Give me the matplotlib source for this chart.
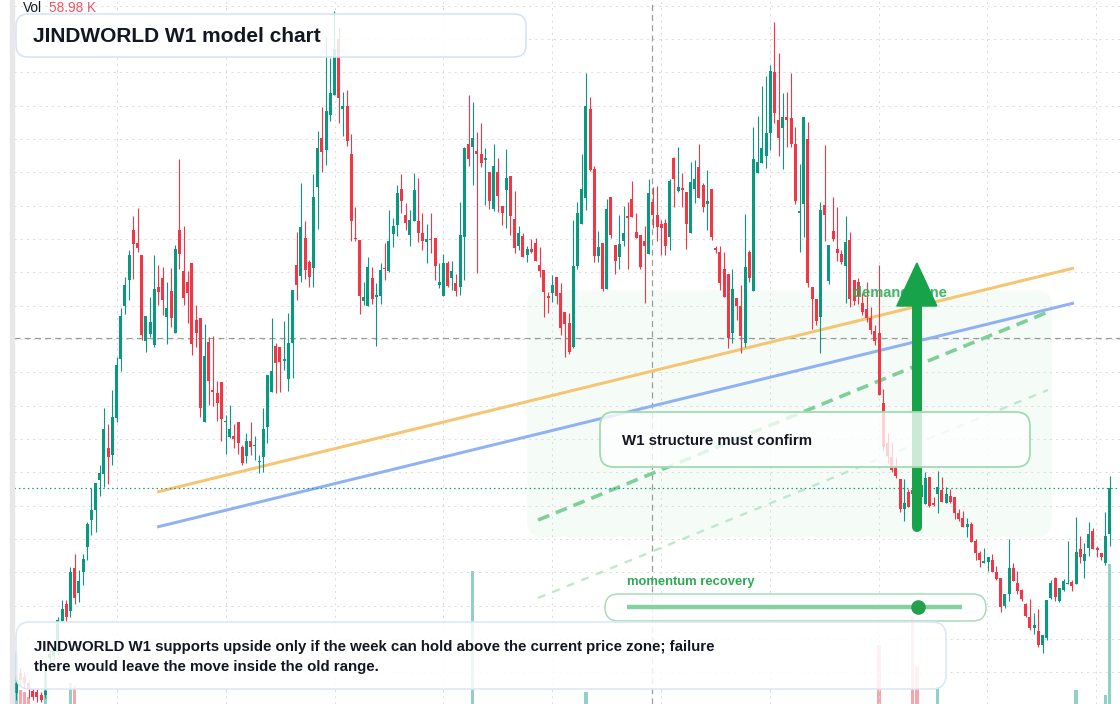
import numpy as np
import matplotlib
matplotlib.use("Agg")
import matplotlib.pyplot as plt
from matplotlib.patches import FancyBboxPatch, Rectangle, Polygon
from matplotlib.transforms import IdentityTransform

W, H = 1120, 704

# weekly candles, price units
open_ = [27, 47, 43, 37, 29, 28, 25, 25, 62, 64,
         68, 99, 116, 109, 152, 127, 148, 173, 200, 210,
         240, 246, 272, 265, 302, 361, 414, 440, 490, 477,
         465, 379, 386, 375, 433, 442, 403, 429, 387, 490,
         449, 438, 457, 400, 402, 298, 378, 330, 327, 338,
         298, 283, 284, 298, 273, 264, 279, 274, 258, 263,
         293, 328, 374, 373, 359, 341, 377, 455, 444, 482,
         458, 452, 533, 582, 570, 605, 625, 681, 611, 614,
         566, 482, 480, 419, 414, 442, 423, 424, 452, 449,
         486, 495, 531, 505, 485, 499, 499, 487, 478, 481,
         482, 435, 424, 457, 442, 437, 433, 483, 576, 573,
         569, 566, 560, 548, 511, 548, 514, 530, 544, 501,
         474, 484, 465, 471, 477, 455, 450, 424, 427, 443,
         427, 408, 397, 373, 454, 496, 522, 611, 551, 464,
         477, 431, 523, 475, 463, 479, 504, 521, 488, 485,
         479, 466, 518, 505, 496, 497, 483, 562, 529, 532,
         528, 487, 531, 553, 535, 516, 531, 472, 468, 451,
         446, 387, 422, 414, 377, 468, 429, 547, 557, 564,
         587, 648, 600, 592, 603, 602, 576, 507, 516, 581,
         433, 421, 403, 515, 439, 489, 471, 466, 454, 480,
         440, 438, 417, 411, 402, 389, 387, 317, 277, 263,
         254, 241, 211, 228, 230, 233, 223, 216, 243, 217,
         226, 230, 217, 224, 223, 207, 202, 193, 196, 179,
         167, 157, 158, 160, 148, 142, 114, 126, 152, 137,
         130, 116, 103, 92, 89, 75, 82, 122, 142, 119,
         130, 136, 138, 136, 171, 159, 172, 189, 172, 167,
         157, 186]
high = [45, 52, 48, 40, 32, 31, 28, 57, 70, 75,
        103, 120, 120, 153, 166, 150, 166, 198, 232, 237,
        255, 312, 296, 330, 363, 412, 443, 470, 504, 512,
        465, 404, 423, 465, 455, 453, 438, 452, 475, 561,
        494, 449, 457, 415, 402, 396, 383, 384, 339, 338,
        305, 315, 296, 298, 275, 287, 298, 284, 265, 312,
        345, 402, 377, 373, 399, 407, 430, 488, 537, 499,
        460, 546, 589, 613, 684, 662, 709, 693, 628, 630,
        586, 513, 480, 438, 463, 453, 437, 457, 477, 510,
        502, 535, 546, 517, 510, 547, 542, 507, 496, 507,
        482, 457, 466, 459, 459, 446, 518, 573, 625, 618,
        588, 597, 572, 548, 576, 562, 514, 571, 544, 529,
        494, 487, 474, 481, 482, 473, 450, 428, 445, 443,
        437, 408, 407, 500, 518, 566, 647, 623, 554, 489,
        477, 521, 523, 475, 505, 514, 518, 539, 507, 485,
        494, 541, 533, 534, 500, 501, 541, 563, 573, 547,
        528, 558, 560, 576, 537, 550, 531, 474, 474, 468,
        446, 451, 422, 435, 506, 470, 593, 604, 634, 644,
        655, 698, 667, 627, 628, 647, 593, 556, 603, 598,
        433, 421, 518, 575, 475, 523, 513, 470, 504, 488,
        440, 442, 427, 438, 413, 395, 455, 331, 287, 278,
        262, 241, 241, 231, 259, 240, 242, 248, 243, 223,
        249, 243, 233, 231, 223, 211, 209, 202, 198, 181,
        169, 172, 163, 166, 154, 142, 126, 181, 157, 149,
        131, 117, 121, 107, 111, 85, 120, 140, 143, 132,
        141, 179, 140, 203, 184, 177, 198, 192, 174, 167,
        208, 244]
low = [20, 34, 32, 22, 20, 18, 18, 22, 58, 60,
       65, 97, 98, 103, 116, 118, 135, 160, 185, 188,
       224, 233, 236, 255, 298, 349, 406, 420, 441, 468,
       380, 368, 383, 373, 415, 405, 376, 393, 387, 451,
       415, 397, 365, 373, 303, 298, 315, 314, 299, 279,
       266, 282, 272, 266, 255, 257, 265, 260, 247, 248,
       277, 328, 327, 328, 350, 329, 342, 420, 438, 441,
       433, 433, 491, 548, 555, 599, 625, 597, 584, 574,
       479, 479, 406, 415, 414, 416, 374, 416, 440, 448,
       473, 484, 507, 490, 474, 499, 478, 470, 457, 467,
       440, 432, 424, 433, 430, 424, 425, 440, 554, 535,
       447, 553, 515, 511, 509, 508, 495, 492, 485, 467,
       470, 463, 458, 467, 459, 443, 403, 407, 418, 416,
       385, 363, 366, 372, 451, 496, 510, 549, 458, 458,
       429, 431, 482, 446, 451, 474, 451, 503, 482, 451,
       417, 466, 492, 479, 465, 465, 470, 513, 528, 513,
       471, 487, 517, 522, 508, 490, 480, 467, 430, 423,
       372, 377, 400, 367, 373, 438, 429, 547, 557, 552,
       570, 597, 564, 551, 573, 573, 516, 468, 483, 433,
       391, 395, 367, 479, 436, 479, 459, 456, 417, 413,
       415, 416, 405, 398, 386, 375, 325, 270, 257, 248,
       242, 208, 199, 213, 202, 215, 217, 216, 213, 214,
       207, 218, 217, 217, 201, 199, 193, 183, 178, 160,
       153, 157, 149, 148, 140, 108, 112, 119, 139, 126,
       119, 103, 90, 86, 73, 67, 80, 121, 119, 118,
       129, 136, 129, 136, 157, 142, 164, 171, 163, 160,
       155, 174]
close = [37, 40, 37, 31, 23, 23, 20, 29, 66, 69,
         100, 111, 103, 148, 122, 139, 161, 196, 210, 237,
         247, 291, 263, 303, 355, 404, 435, 465, 476, 472,
         385, 404, 398, 431, 428, 420, 412, 402, 471, 466,
         422, 427, 376, 387, 312, 364, 339, 328, 317, 301,
         299, 291, 281, 277, 257, 279, 273, 275, 259, 291,
         345, 349, 357, 358, 361, 377, 430, 435, 493, 450,
         443, 523, 572, 568, 609, 627, 671, 622, 614, 579,
         499, 481, 424, 423, 453, 421, 425, 450, 451, 479,
         494, 527, 519, 497, 500, 530, 487, 479, 481, 480,
         454, 438, 457, 434, 449, 429, 485, 572, 561, 582,
         566, 557, 562, 519, 554, 524, 507, 542, 504, 472,
         487, 463, 471, 468, 459, 449, 428, 422, 435, 424,
         392, 396, 368, 454, 507, 531, 614, 550, 464, 473,
         431, 511, 485, 459, 476, 487, 502, 503, 482, 453,
         474, 527, 505, 493, 492, 474, 539, 541, 533, 530,
         496, 538, 541, 522, 513, 519, 483, 470, 437, 423,
         382, 431, 414, 384, 453, 442, 561, 558, 572, 587,
         649, 607, 582, 603, 600, 576, 519, 509, 603, 437,
         421, 399, 510, 505, 475, 481, 467, 458, 478, 421,
         419, 424, 408, 402, 390, 379, 325, 273, 264, 250,
         244, 211, 217, 213, 226, 220, 235, 242, 214, 215,
         233, 218, 226, 218, 207, 201, 193, 196, 178, 167,
         160, 159, 163, 148, 141, 113, 126, 152, 139, 129,
         121, 104, 92, 95, 75, 85, 120, 137, 123, 132,
         139, 137, 134, 168, 163, 166, 186, 171, 170, 163,
         184, 232]

# volume in K (only the visible bars)
volume_k = {0: 22, 1: 6, 2: 5, 3: 3, 7: 18, 13: 9, 14: 8, 109: 56, 136: 5,
            206: 25, 214: 37, 215: 16, 220: 7, 253: 6, 260: 4, 261: 58.98}

# drawing levels (index, price)
support_orange = [(33.7, 228), (252.5, 452)]
support_blue = [(33.7, 193), (252.5, 417)]
path_main = [(124.6, 200), (246.3, 408)]
path_low = [(124.6, 122), (246.3, 330)]
arrow_idx, arrow_from, arrow_to = 215.0, 193, 457
cross_idx, cross_price = 151.8, 382

UP, DOWN = "#089981", "#f23645"
TXT = "#131722"
X0, STEP, P_TOP = 16, 4.19, 720   # first candle px, px per candle, price at top edge
PX = 0.72                         # one pixel in points

plt.rcParams["font.family"] = ["Liberation Sans", "DejaVu Sans"]

fig = plt.figure(figsize=(W / 100, H / 100), dpi=100)
fig.patch.set_facecolor("white")
vax = fig.add_axes([0, 0, 1, 1])
ax = fig.add_axes([0, 0, 1, 1])
ax.patch.set_alpha(0)
xlim = (-X0 / STEP, (W - X0) / STEP)
for a in (ax, vax):
    a.set_xlim(xlim)
    a.axis("off")
ax.set_ylim(P_TOP - H, P_TOP)
vax.set_ylim(0, H / 2.374)

o = np.array(open_, float)
c = np.array(close, float)
hi = np.array(high, float)
lo = np.array(low, float)
n = len(c)
idx = np.arange(n)
cols = np.where(c >= o, UP, DOWN)

# volume
vol = np.zeros(n)
for k, v in volume_k.items():
    vol[k] = v
vax.bar(idx, vol, width=0.8, color=cols, alpha=0.45, linewidth=0)

# demand zone (under the grid)
ax.add_patch(FancyBboxPatch((527, H - 537), 525, 247, boxstyle="round,pad=0,rounding_size=16",
                            transform=IdentityTransform(), fc="#f5fbf7", ec="none", zorder=0.3))

# grid
xl_left = (14 - X0) / STEP
for k in range(10):
    gx = (117 + 108.8 * k - X0) / STEP
    ax.plot([gx, gx], [P_TOP - H, P_TOP], color="#dcdcdc", lw=PX, dashes=(2, 4.2), zorder=0.5)
for k in range(22):
    gy = P_TOP - (5.7 + 33.33 * k)
    ax.plot([xl_left, xlim[1]], [gy, gy], color="#dcdcdc", lw=PX, dashes=(2, 4.2), zorder=0.5)

# left strip
ax.add_patch(Rectangle((10, 0), 4, H, transform=IdentityTransform(), color="#e8e8e8", zorder=8))

# crosshair and last price
ax.plot([cross_idx, cross_idx], [P_TOP - H, P_TOP], color="#9a9a9a", lw=PX * 1.2,
        dashes=(5, 3.5), zorder=1.2)
ax.plot([xl_left, xlim[1]], [cross_price, cross_price], color="#9a9a9a", lw=PX * 1.2,
        dashes=(5, 3.5), zorder=1.2)
ax.plot([xl_left, xlim[1]], [c[-1], c[-1]], color=UP, lw=PX * 1.2, dashes=(1.2, 2.5), zorder=2.5)

# trend lines
for pts, col in ((support_orange, "#f6c572"), (support_blue, "#8fb2f5")):
    (x1, y1), (x2, y2) = pts
    ax.plot([x1, x2], [y1, y2], color=col, lw=3 * PX, solid_capstyle="butt", zorder=2)
(x1, y1), (x2, y2) = path_main
ax.plot([x1, x2], [y1, y2], color="#7fcf98", lw=2.6, dashes=(3.3, 2.0), zorder=2)
(x1, y1), (x2, y2) = path_low
ax.plot([x1, x2], [y1, y2], color="#bfe8cc", lw=1.7, dashes=(3.3, 3.3), zorder=2)

# candles
ax.vlines(idx, lo, hi, colors=cols, lw=PX * 1.1, zorder=3)
body = np.maximum(np.abs(c - o), 1.3)
ax.bar(idx, body, bottom=np.minimum(o, c), width=3 / STEP, color=cols, linewidth=0, zorder=3)

# demand zone label
ax.text(853, H - 293, "demand zone", transform=IdentityTransform(), color="#2fae5a", alpha=0.9,
        fontsize=10.5, fontweight="bold", ha="left", va="center", zorder=4)

# arrow
head_base = 414
half = 20 / STEP
ax.plot([arrow_idx, arrow_idx], [arrow_from, head_base + 5], color="#16a34a", lw=10 * PX,
        solid_capstyle="round", zorder=5)
ax.add_patch(Polygon([(arrow_idx - half, head_base), (arrow_idx + half, head_base),
                      (arrow_idx, arrow_to)], closed=True, color="#16a34a", zorder=5))


def rbox(x0, y0, x1, y1, r, ec, fc=(1, 1, 1, 0.85), lw=1.1, z=6):
    ax.add_patch(FancyBboxPatch((x0, H - y1), x1 - x0, y1 - y0,
                                boxstyle=f"round,pad=0,rounding_size={r}",
                                transform=IdentityTransform(), fc=fc, ec=ec, lw=lw,
                                zorder=z, clip_on=False))


def label(x, y, s, size, color=TXT, weight="bold"):
    ax.text(x, H - y, s, transform=IdentityTransform(), fontsize=size, color=color,
            fontweight=weight, ha="left", va="center", zorder=7, clip_on=False)


# title
rbox(16, 14, 526, 57, 12, "#d5e2f6")
label(33, 36, "JINDWORLD W1 model chart", 15)
label(23, 8, "Vol", 9.8, weight="normal")
label(49, 8, "58.98 K", 9.8, color="#f7525f", weight="normal")

# confirmation box
rbox(600, 412, 1030, 467, 14, "#a3dab2", fc=(1, 1, 1, 0.78), lw=1.3)
label(622, 441, "W1 structure must confirm", 10.8)

# momentum slider
label(627, 582, "momentum recovery", 9.4, color="#2eaa55")
rbox(605, 594, 986, 621, 13.5, "#a8ddb8", fc=(1, 1, 1, 0.85), lw=1.1)
ax.plot([627, 962], [H - 607, H - 607], transform=IdentityTransform(), color="#86cf9f",
        lw=3.2, solid_capstyle="butt", zorder=7, clip_on=False)
ax.plot([918], [H - 607], "o", transform=IdentityTransform(), color="#22a04b", ms=10.5,
        mew=0, zorder=7.5, clip_on=False)

# note box
rbox(16, 622, 946, 689, 14, "#dbe6f8")
label(34, 647, "JINDWORLD W1 supports upside only if the week can hold above the current price zone; failure", 10.8)
label(34, 667, "there would leave the move inside the old range.", 10.8)

fig.savefig("out.png", dpi=100)
